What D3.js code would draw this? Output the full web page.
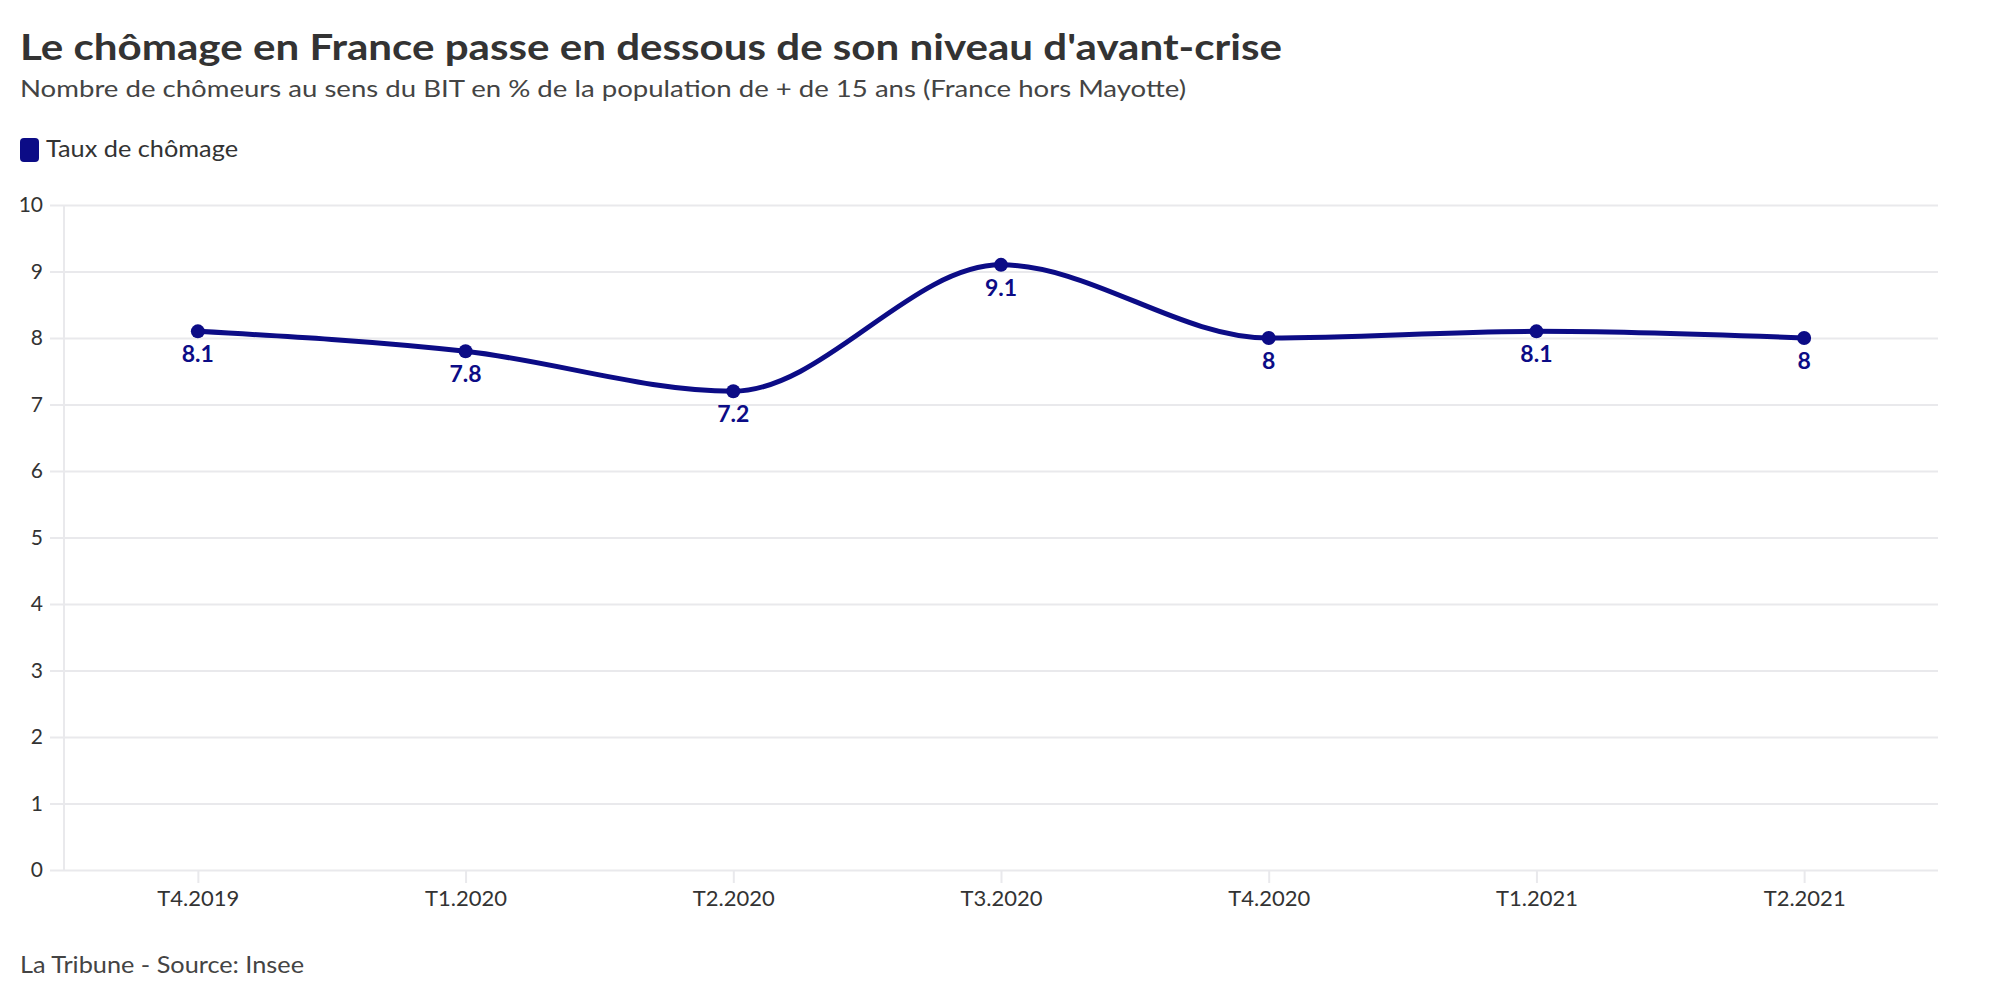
<!DOCTYPE html>
<html>
<head>
<meta charset="utf-8">
<script src="https://cdn.jsdelivr.net/npm/d3@7"></script>
<style>
  body { margin: 0; background: #fff; }
  text { font-family: Lato, "Open Sans", sans-serif; }
</style>
</head>
<body>
<script>
// Data.
var quarters = ["T4.2019", "T1.2020", "T2.2020", "T3.2020", "T4.2020", "T1.2021", "T2.2021"],
  rates = [8.1, 7.8, 7.2, 9.1, 8, 8.1, 8],
  yTicks = [0, 1, 2, 3, 4, 5, 6, 7, 8, 9, 10];

// Configuration.
var width = 2000,
  height = 1000,
  plotLeft = 64,
  plotRight = 1938,
  plotTop = 205,
  plotBottom = 870,
  lineColor = "#0c0c86",
  gridColor = "#e9e9ec";

var svg = d3.select("body").append("svg")
    .attr("width", width)
    .attr("height", height);

var x = d3.scalePoint()
    .domain(quarters)
    .range([plotLeft, plotRight])
    .padding(0.5),
  y = d3.scaleLinear()
    .domain([0, 10])
    .range([plotBottom, plotTop]);

// Stretch or squeeze a text element to the width it has in the reference.
function fit(sel, w) {
  sel.attr("textLength", w).attr("lengthAdjust", "spacingAndGlyphs");
}

// Titles.
svg.append("text")
    .attr("x", 20).attr("y", 60)
    .attr("font-size", 37).attr("font-weight", 700)
    .attr("fill", "#333")
    .text("Le chômage en France passe en dessous de son niveau d'avant-crise")
    .call(fit, 1262);

svg.append("text")
    .attr("x", 20).attr("y", 97)
    .attr("font-size", 24)
    .attr("fill", "#444")
    .text("Nombre de chômeurs au sens du BIT en % de la population de + de 15 ans (France hors Mayotte)")
    .call(fit, 1166);

// Legend.
svg.append("rect")
    .attr("x", 20).attr("y", 138)
    .attr("width", 19).attr("height", 24)
    .attr("rx", 4)
    .attr("fill", lineColor);
svg.append("text")
    .attr("x", 46).attr("y", 157)
    .attr("font-size", 23)
    .attr("fill", "#333")
    .text("Taux de chômage")
    .call(fit, 192);

// Y axis grid.
var yAxis = svg.append("g")
    .attr("transform", "translate(" + plotRight + ",0)")
    .call(d3.axisLeft(y).tickValues(yTicks).tickSize(plotRight - 50).tickFormat(d3.format("d")));
yAxis.select(".domain").remove();
yAxis.selectAll("line").attr("stroke", gridColor).attr("stroke-width", 2);
yAxis.selectAll("text")
    .attr("x", -(plotRight - 43))
    .attr("font-size", 21)
    .attr("fill", "#333")
    .attr("font-family", "Lato, sans-serif");

// Vertical axis line.
svg.append("line")
    .attr("x1", plotLeft).attr("x2", plotLeft)
    .attr("y1", plotTop).attr("y2", plotBottom)
    .attr("stroke", gridColor).attr("stroke-width", 2);

// X axis.
var xAxis = svg.append("g")
    .attr("transform", "translate(0," + plotBottom + ")")
    .call(d3.axisBottom(x).tickSize(13).tickPadding(7));
xAxis.select(".domain").remove();
xAxis.selectAll("line").attr("stroke", gridColor).attr("stroke-width", 2);
xAxis.selectAll("text")
    .attr("font-size", 22)
    .attr("fill", "#333")
    .attr("font-family", "Lato, sans-serif");

// Line.
var line = d3.line()
    .x(function(d, i) { return x(quarters[i]); })
    .y(function(d) { return y(d); })
    .curve(d3.curveMonotoneX);

svg.append("path")
    .datum(rates)
    .attr("d", line)
    .attr("fill", "none")
    .attr("stroke", lineColor)
    .attr("stroke-width", 5);

svg.selectAll(".dot")
    .data(rates)
  .enter().append("circle")
    .attr("class", "dot")
    .attr("cx", function(d, i) { return x(quarters[i]); })
    .attr("cy", function(d) { return y(d); })
    .attr("r", 7)
    .attr("fill", lineColor);

svg.selectAll(".val")
    .data(rates)
  .enter().append("text")
    .attr("class", "val")
    .attr("x", function(d, i) { return x(quarters[i]); })
    .attr("y", function(d) { return y(d) + 31; })
    .attr("text-anchor", "middle")
    .attr("font-size", 23)
    .attr("font-weight", 700)
    .attr("fill", lineColor)
    .text(function(d) { return d; });

// Footer.
svg.append("text")
    .attr("x", 20).attr("y", 973)
    .attr("font-size", 23)
    .attr("fill", "#444")
    .text("La Tribune - Source: Insee")
    .call(fit, 284);
</script>
</body>
</html>
